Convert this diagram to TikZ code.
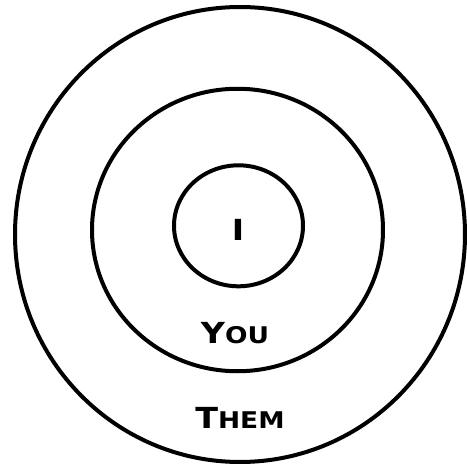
\documentclass[tikz,border=0pt]{standalone}
\usepackage{fontspec}
\newfontfamily\ringfont[FakeStretch=1.15]{DejaVu Sans}
\usetikzlibrary{shapes.geometric}

\newcommand{\capbig}{\fontsize{29}{31}\selectfont}
\newcommand{\capsmall}{\fontsize{23}{25}\selectfont}

\begin{document}
\begin{tikzpicture}[
  x=1pt, y=-1pt,
  ring/.style={draw, ellipse, line width=4pt, inner sep=0pt, outer sep=0pt},
  word/.style={anchor=base, inner sep=0pt, font=\ringfont\bfseries}
]
\useasboundingbox (0,0) rectangle (467,466);
% rings
\node[ring, minimum width=450pt, minimum height=455pt] (them) at (240,234.5) {};
\node[ring, minimum width=291pt, minimum height=282.5pt] (you) at (237.5,230) {};
\node[ring, minimum width=129pt, minimum height=121pt] (me) at (238.5,225.8) {};
% labels
\node[word] (melabel) at (238,240) {\capbig I};
\node[word] (youlabel) at (235,343) {\capbig Y\capsmall OU};
\node[word] (themlabel) at (240,428) {\capbig T\capsmall HEM};
\end{tikzpicture}
\end{document}
